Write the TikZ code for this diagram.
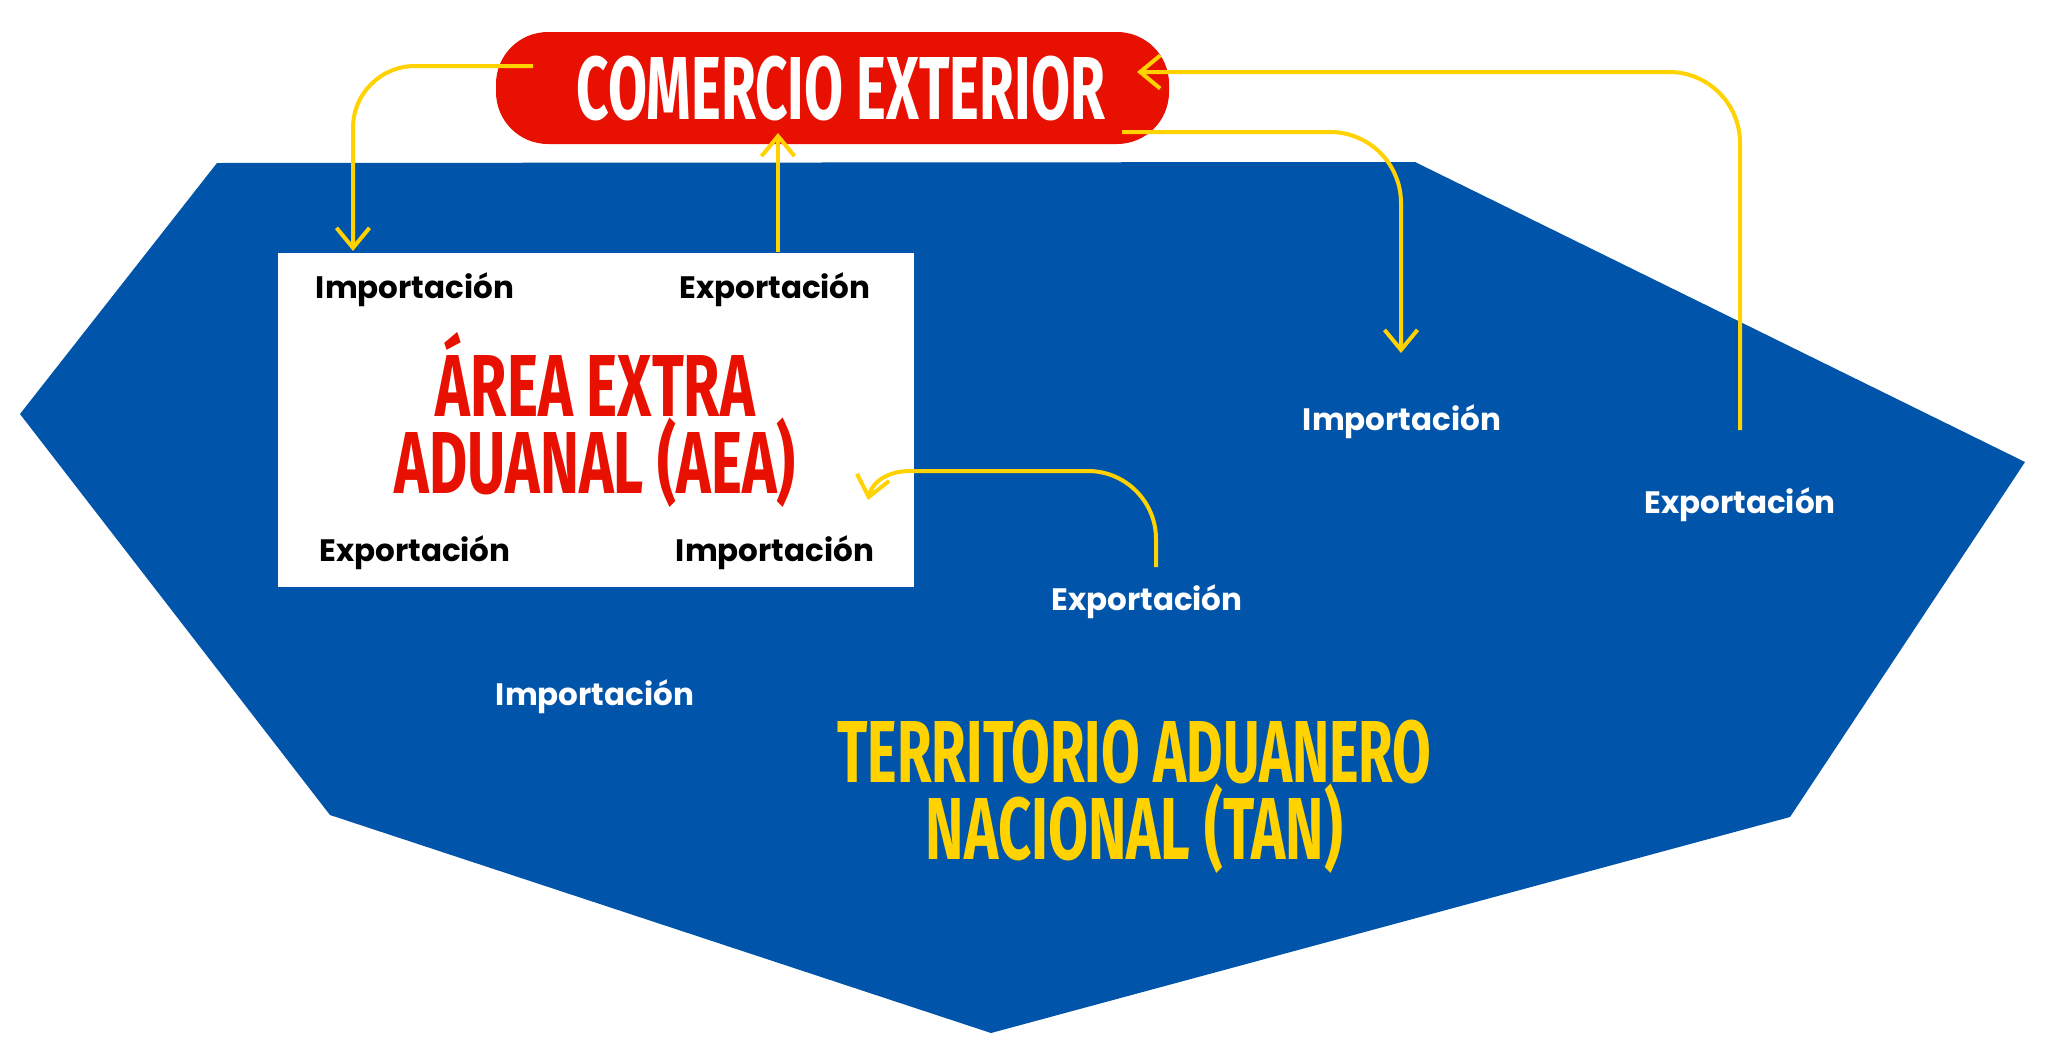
\documentclass[tikz,border=0pt]{standalone}
\usepackage{fontspec}
\usepackage{graphicx}
\setmainfont{Poppins}
\newfontfamily\condfont{Fira Sans}
\usetikzlibrary{arrows.meta}
\definecolor{tanblue}{HTML}{0054AA}
\definecolor{cered}{HTML}{E81000}
\definecolor{flowyellow}{HTML}{FFD200}
\newcommand{\condtitle}[3]{\resizebox{#1}{#2}{\condfont\bfseries\vphantom{E}\smash{#3}}}
\tikzset{
  lbl/.style={font=\fontsize{15.5pt}{18pt}\selectfont\bfseries, anchor=base, inner sep=0pt},
  ttl/.style={inner sep=0pt, align=center, font=\fontsize{10pt}{38.5pt}\selectfont},
  flow/.style={draw=flowyellow, line width=2pt, -{Straight Barb[length=10pt,width=16.5pt]}},
  pillbox/.style={fill=cered, rounded corners=26pt, minimum width=336.5pt, minimum height=56pt, inner sep=0pt},
  aeabox/.style={fill=white, minimum width=318pt, minimum height=167pt, inner sep=0pt}
}
\begin{document}
\begin{tikzpicture}[x=0.5pt,y=-0.5pt]
\useasboundingbox (0,0) rectangle (2048,1050);
\fill[white] (0,0) rectangle (2048,1050);
% territory polygon
\fill[tanblue] (217,163) -- (1415,162) -- (2025,462) -- (1790,817) -- (991,1033) -- (330,815) -- (20,414) -- cycle;
% nodes
\node[pillbox] (ce) at (832.5,88) {};
\node[ttl, text=white] (cet) at (841,88) {\condtitle{264pt}{31pt}{COMERCIO EXTERIOR}};
\node[aeabox] (aea) at (596,419.5) {};
\node[ttl, text=cered] (aeat) at (595.5,424) {\condtitle{159.5pt}{30.5pt}{ÁREA EXTRA}\\\condtitle{200.5pt}{30.5pt}{ADUANAL (AEA)}};
\node[ttl, text=flowyellow] (tant) at (1134.5,790.5) {\condtitle{297pt}{30.5pt}{TERRITORIO ADUANERO}\\\condtitle{208.5pt}{30.5pt}{NACIONAL (TAN)}};
% labels inside AEA
\node[lbl, text=black] (aimp1) at (415,298) {Importación};
\node[lbl, text=black] (aexp1) at (775,298) {Exportación};
\node[lbl, text=black] (aexp2) at (415,561) {Exportación};
\node[lbl, text=black] (aimp2) at (775,561) {Importación};
% labels on TAN
\node[lbl, text=white] (timp1) at (1402,430) {Importación};
\node[lbl, text=white] (texp1) at (1740,513) {Exportación};
\node[lbl, text=white] (texp2) at (1147,610) {Exportación};
\node[lbl, text=white] (timp2) at (595,705) {Importación};
% connector end points
\coordinate (c1s) at (533,66);
\coordinate (c1e) at (353,251);
\coordinate (c2s) at (778,252);
\coordinate (c2e) at (778,133);
\coordinate (c3s) at (1122,132);
\coordinate (c3e) at (1401,353);
\coordinate (c4s) at (1740,430);
\coordinate (c4e) at (1137,72);
\coordinate (c5s) at (1156,567);
\coordinate (c5a) at (1156,539);
\coordinate (c5b) at (1088,471);
\coordinate (c5m) at (910,471);
\coordinate (c5e) at (868,500);
% connectors
\draw[flow, rounded corners=31pt] (c1s) -| (c1e);
\draw[flow] (c2s) -- (c2e);
\draw[flow, rounded corners=35.5pt] (c3s) -| (c3e);
\draw[flow, rounded corners=35.5pt] (c4s) |- (c4e);
\draw[flow] (c5s) -- (c5a) .. controls (1156,501.5) and (1125.5,471) .. (c5b) -- (c5m) .. controls (888,471) and (872,482) .. (c5e);
\end{tikzpicture}
\end{document}
